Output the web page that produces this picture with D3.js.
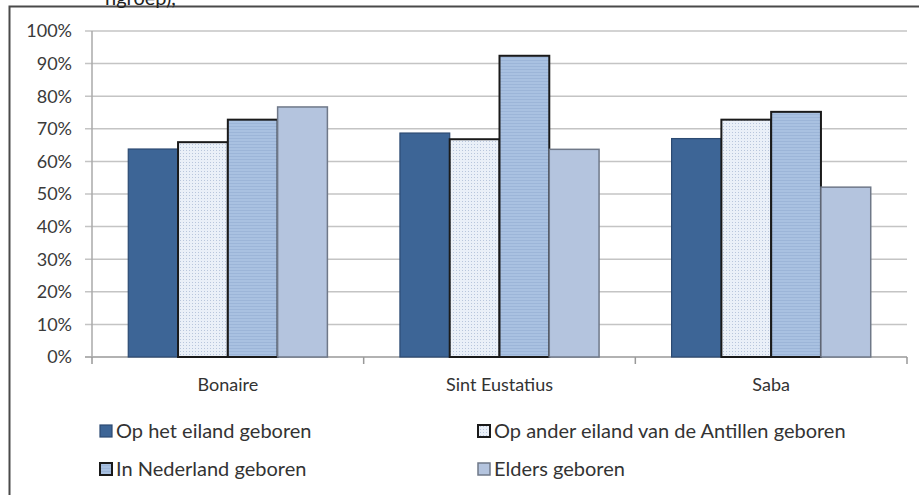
<!DOCTYPE html>
<html><head><meta charset="utf-8">
<script src="https://cdn.jsdelivr.net/npm/d3@7"></script>
<style>body{margin:0;background:#fff;}svg{display:block;}</style>
</head><body>
<svg id="c" width="919" height="495"></svg>
<script>
const categories = ["Bonaire", "Sint Eustatius", "Saba"];
const seriesNames = ["Op het eiland geboren", "Op ander eiland van de Antillen geboren", "In Nederland geboren", "Elders geboren"];
const opEiland   = [63.8, 68.7, 67.0];
const anderEiland = [65.9, 66.8, 72.8];
const nederland  = [72.8, 92.4, 75.2];
const elders     = [76.7, 63.7, 52.1];
const seriesValues = [opEiland, anderEiland, nederland, elders];
const yTicks = [0,10,20,30,40,50,60,70,80,90,100];
const titleFragment = "ngroep),";

(function(){
const svg = d3.select("#c");
const defs = svg.append("defs");
const pd = defs.append("pattern").attr("id","dots").attr("width",3).attr("height",3).attr("patternUnits","userSpaceOnUse");
pd.append("rect").attr("width",3).attr("height",3).attr("fill","#eaf0f8");
pd.append("rect").attr("x",0).attr("y",0).attr("width",1).attr("height",1).attr("fill","#b8c6dc");
const ph = defs.append("pattern").attr("id","hlines").attr("width",4).attr("height",3).attr("patternUnits","userSpaceOnUse");
ph.append("rect").attr("width",4).attr("height",3).attr("fill","#a9c1e1");
ph.append("rect").attr("y",0).attr("width",4).attr("height",1).attr("fill","#9cb5d8");

const fills = ["#3d6596", "url(#dots)", "url(#hlines)", "#b4c4de"];
const strokes = ["#2c4a72", "#1a1a1a", "#1a1a1a", "#6f7888"];
const strokeW = [1.2, 2, 2, 1.5];

const pL = 92, pR = 907, pT = 31, pB = 357;
const y = d3.scaleLinear().domain([0,100]).range([pB, pT]);
const x0 = d3.scaleBand().domain(categories).range([pL, pR]).padding(0);
const groupW = x0.bandwidth() * 0.733;
const x1 = d3.scaleBand().domain(d3.range(4)).range([0, groupW]).padding(0);

svg.append("path").attr("d", `M9.5,495 V6.5 H919`).attr("fill","none").attr("stroke","#4a4a4a").attr("stroke-width",2);

svg.append("text").attr("x",105).attr("y",5).attr("font-family","Lato, sans-serif").attr("font-size",20).attr("fill","#222").text(titleFragment);

svg.append("g").selectAll("line").data(yTicks).join("line")
  .attr("x1", pL-7).attr("x2", pR).attr("y1", d=>y(d)).attr("y2", d=>y(d))
  .attr("stroke", d=> d===0 ? "#999" : "#c4c4c4").attr("stroke-width",1.5);
svg.append("line").attr("x1",pL).attr("x2",pL).attr("y1",pT).attr("y2",pB).attr("stroke","#aaa").attr("stroke-width",1.5);
svg.append("g").selectAll("text").data(yTicks).join("text")
  .attr("x", 72).attr("y", d=>y(d)).attr("dy","0.35em").attr("text-anchor","end")
  .attr("font-family","Lato, sans-serif").attr("font-size",18).attr("fill","#3a3a3a")
  .text(d=>d+"%");
const xt = [pL, ...categories.map(c=>x0(c)+x0.bandwidth())];
svg.append("g").selectAll("line").data(xt).join("line")
  .attr("x1",d=>d).attr("x2",d=>d).attr("y1",pB).attr("y2",pB+7)
  .attr("stroke","#999").attr("stroke-width",1.5);

const g = svg.append("g");
categories.forEach((c,ci)=>{
  const gx = x0(c) + (x0.bandwidth()-groupW)/2;
  seriesValues.forEach((vals,si)=>{
    g.append("rect")
      .attr("x", gx + x1(si)).attr("y", y(vals[ci]))
      .attr("width", x1.bandwidth()).attr("height", y(0)-y(vals[ci]))
      .attr("fill", fills[si]).attr("stroke", strokes[si]).attr("stroke-width", strokeW[si]);
  });
});

svg.append("g").selectAll("text").data(categories).join("text")
  .attr("x", d=>x0(d)+x0.bandwidth()/2).attr("y", 385).attr("dy","0.35em").attr("text-anchor","middle")
  .attr("font-family","Lato, sans-serif").attr("font-size",18).attr("fill","#333")
  .text(d=>d);

const legPos = [[100,431],[478,431],[100,469],[478,469]];
const lg = svg.append("g");
seriesNames.forEach((n,i)=>{
  const [lx,ly] = legPos[i];
  lg.append("rect").attr("x",lx).attr("y",ly-6).attr("width",12).attr("height",12)
    .attr("fill",fills[i]).attr("stroke",strokes[i]).attr("stroke-width",strokeW[i]);
  lg.append("text").attr("x",lx+16).attr("y",ly).attr("dy","0.35em")
    .attr("font-family","Lato, sans-serif").attr("font-size",20).attr("fill","#333").text(n);
});
})();
</script>
</body></html>
